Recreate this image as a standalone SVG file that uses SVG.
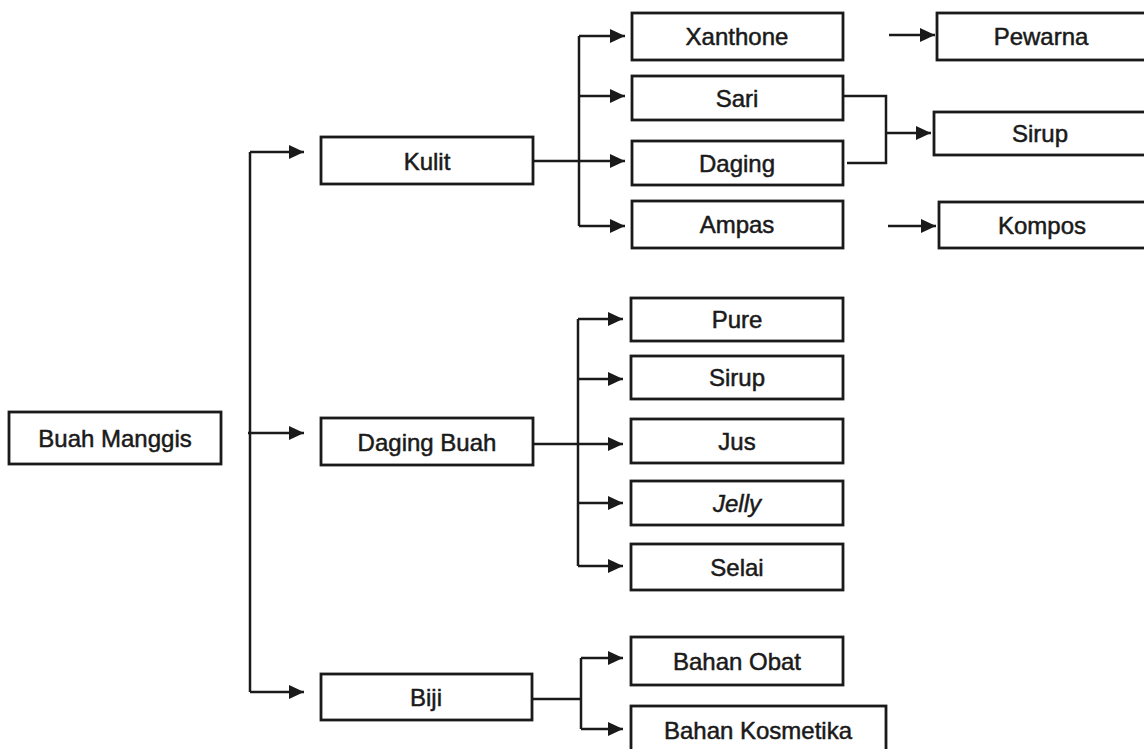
<svg xmlns="http://www.w3.org/2000/svg" width="1144" height="749" viewBox="0 0 1144 749">
<defs>
<style>
.box{fill:#fff;stroke:#1a1a1a;stroke-width:2.8}
.lbl{font-family:"Liberation Sans",Arial,sans-serif;font-size:24px;fill:#1a1a1a;stroke:#1a1a1a;stroke-width:0.5;text-anchor:middle}
.ln{fill:none;stroke:#1a1a1a;stroke-width:2.5}
.ar{fill:none;stroke:#1a1a1a;stroke-width:2.5;marker-end:url(#ah)}
</style>
<marker id="ah" markerUnits="userSpaceOnUse" markerWidth="18" markerHeight="16" refX="16" refY="8" orient="auto">
<path d="M1,1 L16,8 L1,15 z" fill="#1a1a1a"/>
</marker>
</defs>
<rect width="1144" height="749" fill="#fff"/>
<g id="connectors">
<path class="ln" d="M250,152 V692"/>
<path class="ar" d="M250,152 H304"/>
<path class="ar" d="M248,433 H304"/>
<path class="ar" d="M250,692 H304"/>
<path class="ln" d="M579,36 V226"/>
<path class="ar" d="M579,36 H625"/>
<path class="ar" d="M579,96 H625"/>
<path class="ar" d="M533,161 H625"/>
<path class="ar" d="M579,226 H625"/>
<path class="ar" d="M889,35 H935"/>
<path class="ln" d="M843,96 H886 V163 H847"/>
<path class="ar" d="M886,133 H931"/>
<path class="ar" d="M888,226 H936"/>
<path class="ln" d="M578,319 V566"/>
<path class="ar" d="M578,319 H623"/>
<path class="ar" d="M578,379 H623"/>
<path class="ar" d="M533,444 H623"/>
<path class="ar" d="M578,503 H623"/>
<path class="ar" d="M578,566 H623"/>
<path class="ln" d="M532,699 H581"/>
<path class="ln" d="M581,658 V729"/>
<path class="ar" d="M581,658 H623"/>
<path class="ar" d="M581,729 H623"/>
</g>
<g id="buah-manggis"><rect class="box" x="9" y="412" width="212" height="52"/><text class="lbl" x="115" y="447">Buah Manggis</text></g>
<g id="kulit"><rect class="box" x="321" y="137" width="212" height="47"/><text class="lbl" x="427" y="170">Kulit</text></g>
<g id="daging-buah"><rect class="box" x="321" y="418" width="212" height="47"/><text class="lbl" x="427" y="451">Daging Buah</text></g>
<g id="biji"><rect class="box" x="321" y="674" width="211" height="46"/><text class="lbl" x="426" y="706">Biji</text></g>
<g id="xanthone"><rect class="box" x="632" y="13" width="211" height="47"/><text class="lbl" x="737" y="45">Xanthone</text></g>
<g id="sari"><rect class="box" x="632" y="76" width="211" height="44"/><text class="lbl" x="737" y="107">Sari</text></g>
<g id="daging"><rect class="box" x="632" y="141" width="211" height="44"/><text class="lbl" x="737" y="172">Daging</text></g>
<g id="ampas"><rect class="box" x="632" y="201" width="211" height="47"/><text class="lbl" x="737" y="233">Ampas</text></g>
<g id="pewarna"><rect class="box" x="937" y="13" width="210" height="47"/><text class="lbl" x="1041" y="45">Pewarna</text></g>
<g id="sirup-kulit"><rect class="box" x="934" y="112" width="213" height="43"/><text class="lbl" x="1040" y="142">Sirup</text></g>
<g id="kompos"><rect class="box" x="939" y="202" width="208" height="46"/><text class="lbl" x="1042" y="234">Kompos</text></g>
<g id="pure"><rect class="box" x="631" y="298" width="212" height="43"/><text class="lbl" x="737" y="328">Pure</text></g>
<g id="sirup-daging"><rect class="box" x="631" y="356" width="212" height="43"/><text class="lbl" x="737" y="386">Sirup</text></g>
<g id="jus"><rect class="box" x="631" y="419" width="212" height="44"/><text class="lbl" x="737" y="450">Jus</text></g>
<g id="jelly"><rect class="box" x="631" y="481" width="212" height="44"/><text class="lbl" x="737" y="512" font-style="italic">Jelly</text></g>
<g id="selai"><rect class="box" x="631" y="544" width="212" height="46"/><text class="lbl" x="737" y="576">Selai</text></g>
<g id="bahan-obat"><rect class="box" x="631" y="637" width="212" height="48"/><text class="lbl" x="737" y="670">Bahan Obat</text></g>
<g id="bahan-kosmetika"><rect class="box" x="631" y="706" width="255" height="48"/><text class="lbl" x="758" y="739">Bahan Kosmetika</text></g>
</svg>
